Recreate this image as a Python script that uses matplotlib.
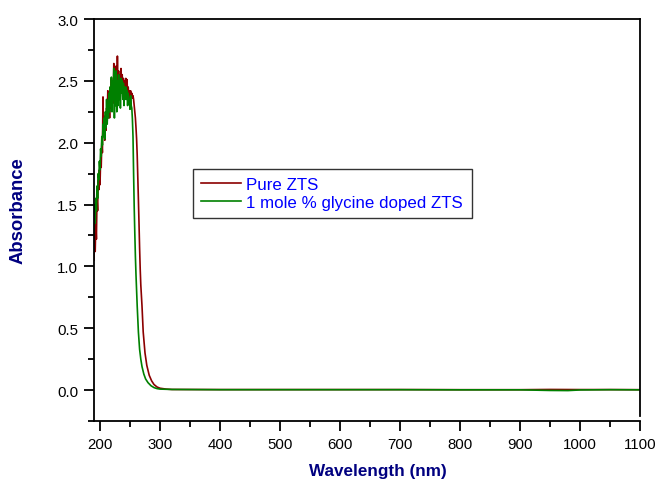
import matplotlib
matplotlib.use("Agg")
import matplotlib.pyplot as plt
from matplotlib.ticker import MultipleLocator, FormatStrFormatter

plt.rcParams['font.family'] = ['Liberation Sans', 'DejaVu Sans']

# ---- data ----
wl_pure = [190, 191, 192, 193, 194, 195, 196, 197, 198, 199, 200, 201, 202, 203, 204,
           205, 206, 207, 208, 209, 210, 211, 212, 213, 214, 215, 216, 217, 218, 219,
           220, 221, 222, 223, 224, 225, 226, 227, 228, 229, 230, 231, 232, 233, 234,
           235, 236, 237, 238, 239, 240, 241, 242, 243, 244, 245, 246, 247, 248, 249,
           250, 251, 252, 253, 254, 255, 256, 257, 258, 259, 260, 261, 262, 263, 264,
           265, 266, 267, 268, 270, 272, 275, 278, 282, 286, 290, 295, 300, 310, 320,
           400, 500, 600, 700, 800, 900, 950, 1000, 1050, 1100]
abs_pure = [1.05, 1.30, 1.12, 1.35, 1.22, 1.55, 1.45, 1.70, 1.62, 1.78, 1.66, 1.85, 1.80, 2.00, 1.92,
            2.37, 2.05, 2.18, 2.02, 2.22, 2.10, 2.28, 2.18, 2.42, 2.22, 2.35, 2.20, 2.45, 2.28, 2.52,
            2.30, 2.48, 2.32, 2.64, 2.45, 2.58, 2.35, 2.62, 2.40, 2.70, 2.45, 2.58, 2.38, 2.55, 2.42,
            2.60, 2.48, 2.55, 2.42, 2.52, 2.45, 2.50, 2.40, 2.52, 2.45, 2.51, 2.40, 2.45, 2.38, 2.42,
            2.36, 2.42, 2.37, 2.40, 2.36, 2.38, 2.35, 2.30, 2.25, 2.20, 2.12, 2.03, 1.90, 1.72, 1.54,
            1.35, 1.15, 0.98, 0.85, 0.68, 0.47, 0.30, 0.20, 0.12, 0.075, 0.045, 0.025, 0.015, 0.008, 0.005,
            0.004, 0.004, 0.004, 0.004, 0.003, 0.003, 0.005, 0.004, 0.004, 0.003]

wl_doped = [190, 191, 192, 193, 194, 195, 196, 197, 198, 199, 200, 201, 202, 203, 204,
            205, 206, 207, 208, 209, 210, 211, 212, 213, 214, 215, 216, 217, 218, 219,
            220, 221, 222, 223, 224, 225, 226, 227, 228, 229, 230, 231, 232, 233, 234,
            235, 236, 237, 238, 239, 240, 241, 242, 243, 244, 245, 246, 247, 248, 249,
            250, 251, 252, 253, 254, 255, 256, 257, 258, 259, 260, 262, 264, 266, 268,
            270, 273, 276, 280, 285, 290, 295, 300, 320,
            400, 500, 600, 700, 800, 900, 950, 980, 1000, 1050, 1100]
abs_doped = [1.25, 1.50, 1.35, 1.55, 1.45, 1.65, 1.55, 1.75, 1.70, 1.85, 1.78, 1.95, 1.89, 2.05, 1.98,
             2.15, 2.05, 2.20, 2.03, 2.25, 2.12, 2.35, 2.15, 2.30, 2.20, 2.40, 2.25, 2.45, 2.30, 2.53,
             2.25, 2.50, 2.35, 2.60, 2.20, 2.55, 2.30, 2.58, 2.25, 2.50, 2.30, 2.55, 2.35, 2.50, 2.28,
             2.52, 2.40, 2.50, 2.35, 2.48, 2.30, 2.45, 2.35, 2.45, 2.35, 2.42, 2.30, 2.40, 2.32, 2.35,
             2.27, 2.38, 2.30, 2.28, 2.19, 2.05, 1.75, 1.48, 1.27, 1.08, 0.93, 0.68, 0.47, 0.33, 0.25,
             0.19, 0.13, 0.09, 0.06, 0.035, 0.02, 0.012, 0.008, 0.005,
             0.003, 0.003, 0.003, 0.003, 0.002, 0.002, -0.003, -0.004, 0.001, 0.003, 0.002]

series_labels = ["Pure ZTS", "1 mole % glycine doped ZTS"]
x_ticks = [200, 300, 400, 500, 600, 700, 800, 900, 1000, 1100]
y_ticks = [0.0, 0.5, 1.0, 1.5, 2.0, 2.5, 3.0]

# ---- figure ----
fig = plt.figure(figsize=(6.62, 4.81), dpi=100)
ax = fig.add_axes([94/662, 59/481, 546/662, 402/481])

ax.plot(wl_pure, abs_pure, color='#8B0000', lw=1.2, label=series_labels[0])
ax.plot(wl_doped, abs_doped, color='#008000', lw=1.2, label=series_labels[1])

ax.set_xlim(190, 1100)
ax.set_ylim(-0.25, 3.0)
ax.set_xticks(x_ticks)
ax.set_yticks(y_ticks)
ax.yaxis.set_major_formatter(FormatStrFormatter('%.1f'))
ax.xaxis.set_minor_locator(MultipleLocator(50))
ax.yaxis.set_minor_locator(MultipleLocator(0.25))
ax.tick_params(which='major', direction='out', length=7.5, width=1.3, labelsize=10.8, pad=4)
ax.tick_params(which='minor', direction='out', length=4, width=1.3)
for s in ax.spines.values():
    s.set_linewidth(1.3)
ax.spines['right'].set_bounds(-0.21, 3.0)

ax.set_xlabel("Wavelength (nm)", fontsize=12.3, fontweight='bold', color='#000080')
ax.set_ylabel("Absorbance", fontsize=13.3, fontweight='bold', color='#000080')
ax.xaxis.set_label_coords(0.52, -0.105)
ax.yaxis.set_label_coords(-0.123, 0.525)

leg = ax.legend(loc='upper left', bbox_to_anchor=(0.181, 0.627), fontsize=12.2,
                frameon=True, fancybox=False, edgecolor='#333333', framealpha=1,
                handlelength=2.36, handletextpad=0.3, borderpad=0.5, labelspacing=0.15,
                borderaxespad=0)
leg.get_frame().set_linewidth(1.0)
for t in leg.get_texts():
    t.set_color('#0000FF')

fig.savefig("out.png", dpi=100)
